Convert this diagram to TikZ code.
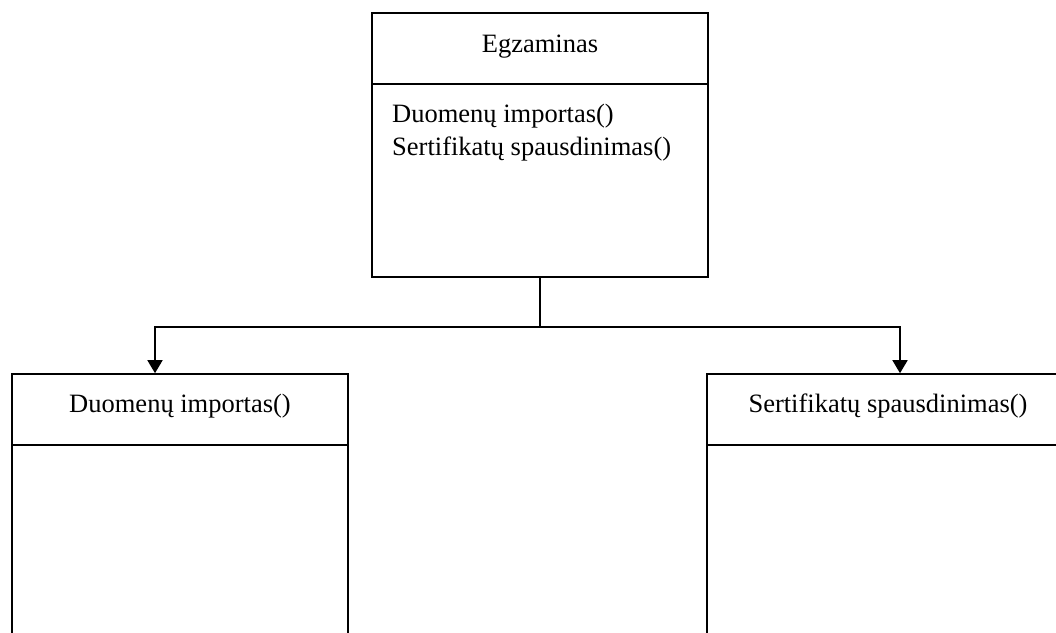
\documentclass[tikz,border=0pt]{standalone}
\usepackage{fontspec}
\setmainfont{Liberation Serif}
\usetikzlibrary{arrows.meta}
\tikzset{
  classbox/.style={draw, line width=1.6pt, rectangle, inner sep=0pt},
  classtext/.style={font=\fontsize{26.5}{33}\selectfont, inner sep=0pt},
  link/.style={line width=1.6pt},
  linkarrow/.style={link, -{Triangle[width=15pt,length=13pt]}}
}
\begin{document}
\begin{tikzpicture}[x=1pt,y=-1pt]
        \useasboundingbox (0,0) rectangle (1056,632);
        \clip (0,0) rectangle (1056,632);
        % Egzaminas (top class)
        \node[classbox, minimum width=336pt, minimum height=264pt] (egz) at (540,145) {};
        \draw[link] ([yshift=-72pt]egz.north west) -- ([yshift=-72pt]egz.north east);
        \node[classtext, anchor=base] (egztitle) at (540,52) {Egzaminas};
        \node[classtext, anchor=base west, align=left] (egzops) at (392,155)
          {Duomenų importas()\\Sertifikatų spausdinimas()};
        % Duomenu importas (left class)
        \node[classbox, minimum width=336pt, minimum height=300pt] (imp) at (180,524) {};
        \draw[link] ([yshift=-72pt]imp.north west) -- ([yshift=-72pt]imp.north east);
        \node[classtext, anchor=base] (imptitle) at (180,412) {Duomenų importas()};
        % Sertifikatu spausdinimas (right class, cut off)
        \node[classbox, minimum width=362pt, minimum height=300pt] (cert) at (888,524) {};
        \draw[link] ([yshift=-72pt]cert.north west) -- ([yshift=-72pt]cert.north east);
        \node[classtext, anchor=base] (certtitle) at (888,412) {Sertifikatų spausdinimas()};
        % connectors
        \draw[link] (egz.south) -- ++(0,49) coordinate (fork);
        \draw[linkarrow] (fork) -| ([xshift=-25pt]imp.north);
        \draw[linkarrow] (fork) -| ([xshift=12pt]cert.north);
    \end{tikzpicture}
\end{document}
